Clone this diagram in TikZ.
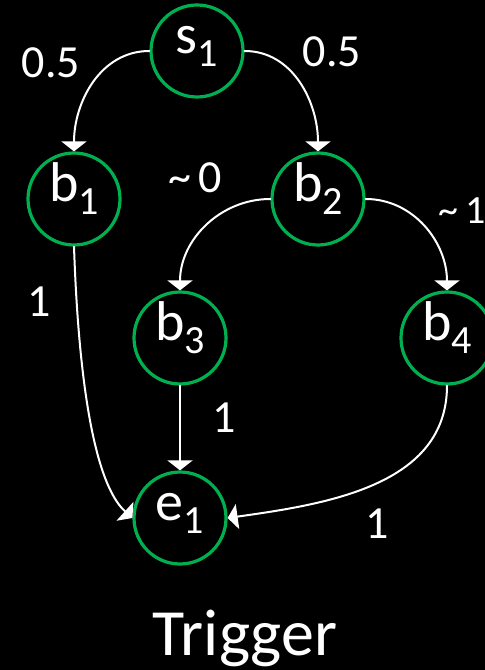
\documentclass[tikz,border=0pt]{standalone}
\usepackage{fontspec}
\setmainfont{Carlito}
\usetikzlibrary{arrows.meta}
\definecolor{stategreen}{RGB}{0,176,80}
\newcommand{\lowsub}[1]{\raisebox{-0.23em}{\fontsize{40}{40}\selectfont #1}}

\begin{document}
\begin{tikzpicture}[x=1pt,y=1pt, line cap=round, line join=round,
  state/.style={circle, draw=stategreen, line width=3.2pt, fill=black, text=white,
    minimum size=92pt, inner sep=0pt, font=\fontsize{56}{60}\selectfont,
    text height=0.62em, text depth=0.15em},
  prob/.style={text=white, inner sep=0pt, font=\fontsize{46}{50}\selectfont},
  flow/.style={draw=white, line width=2pt, -{Triangle[width=25pt,length=10pt]}}]
  % background
  \useasboundingbox (0,0) rectangle (485,670);
  \fill[black] (0,0) rectangle (485,670);
  % states
  \node[state] (s1) at (197,619) {s\lowsub{1}};
  \node[state] (b1) at (74,471) {b\lowsub{1}};
  \node[state] (b2) at (318,471) {b\lowsub{2}};
  \node[state] (b3) at (180,332) {b\lowsub{3}};
  \node[state] (b4) at (447,332) {b\lowsub{4}};
  \node[state] (e1) at (180,152) {e\lowsub{1}};
  % transitions
  \draw[flow] (s1.west) to[out=180,in=90] (b1.north);
  \draw[flow] (s1.east) to[out=0,in=90] (b2.north);
  \draw[flow] (b2.west) to[out=180,in=90] (b3.north);
  \draw[flow] (b2.east) to[out=0,in=90] (b4.north);
  \draw[flow] (b1.south) to[out=-88,in=138,looseness=0.6] (e1.west);
  \draw[flow] (b3) -- (e1);
  \draw[flow] (b4.south) to[out=-90,in=8] (e1.east);
  % probabilities
  \node[prob] (p1) at (51,607) {0.5};
  \node[prob] (p2) at (332,618) {0.5};
  \node[prob] (p3) at (195,492) {\textasciitilde\,0};
  \node[prob, font=\fontsize{40}{44}\selectfont] (p4) at (462,459) {\textasciitilde\,1};
  \node[prob] (w1) at (39,368) {1};
  \node[prob] (w2) at (224,252) {1};
  \node[prob] (w3) at (377,146) {1};
  \node[text=white, anchor=base, font=\fontsize{66}{70}\selectfont] (caption) at (245,15) {Trigger};
\end{tikzpicture}
\end{document}
